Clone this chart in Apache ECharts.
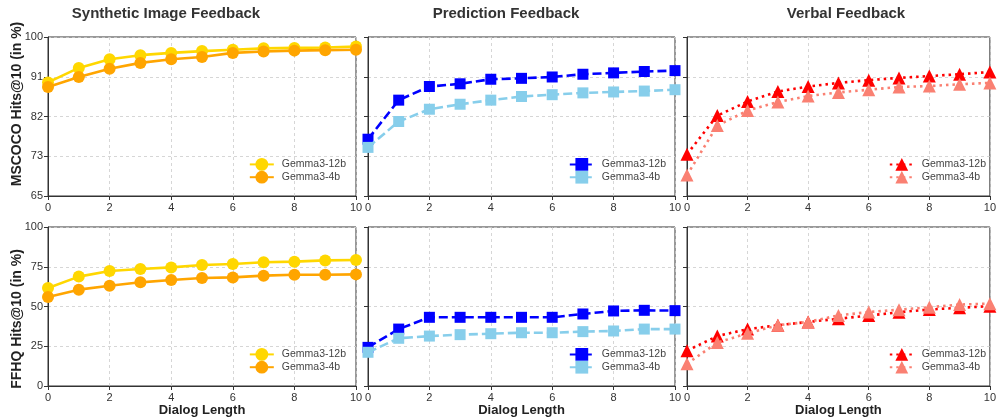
<!DOCTYPE html>
<html>
<head>
<meta charset="utf-8">
<script src="https://cdn.jsdelivr.net/npm/echarts@6/dist/echarts.min.js"></script>
<style>
html,body{margin:0;padding:0;background:#fff;}
#chart{width:999px;height:418px;}
</style>
</head>
<body>
<div id="chart"></div>
<script>
// ---- data ----
const dialogLength = [0,1,2,3,4,5,6,7,8,9,10];
const xTicks = [0,2,4,6,8,10];
const panelTitles = ['Synthetic Image Feedback','Prediction Feedback','Verbal Feedback'];
const rowLabels = ['MSCOCO Hits@10 (in %)','FFHQ Hits@10 (in %)'];
const modelNames = ['Gemma3-12b','Gemma3-4b'];
const msTicks = [65,73.75,82.5,91.25,100];
const ffTicks = [0,25,50,75,100];

// MSCOCO
const msSynth12b = [90.0,93.2,95.1,96.0,96.5,96.9,97.2,97.5,97.6,97.7,97.9];
const msSynth4b  = [89.0,91.2,93.0,94.3,95.1,95.6,96.5,96.8,97.0,97.1,97.2];
const msPred12b  = [77.5,86.1,89.1,89.7,90.7,90.9,91.2,91.8,92.1,92.4,92.6];
const msPred4b   = [75.7,81.4,84.1,85.2,86.1,86.9,87.3,87.7,87.9,88.1,88.4];
const msVerb12b  = [74.2,82.7,85.8,88.0,89.1,89.9,90.5,91.0,91.4,91.8,92.3];
const msVerb4b   = [69.6,80.5,83.8,85.7,87.0,87.8,88.4,89.0,89.2,89.6,89.9];
// FFHQ
const ffSynth12b = [61.6,68.8,72.3,73.6,74.6,76.1,76.7,77.8,78.2,79.0,79.2];
const ffSynth4b  = [56.0,60.6,63.1,65.2,66.7,67.9,68.3,69.4,70.0,70.0,70.2];
const ffPred12b  = [24.3,35.8,43.2,43.2,43.2,43.2,43.2,45.3,47.2,47.6,47.4];
const ffPred4b   = [21.2,30.0,31.4,32.3,32.9,33.5,33.5,34.2,34.6,35.8,35.8];
const ffVerb12b  = [22.2,31.4,35.8,38.2,40.3,42.3,44.3,46.4,48.1,49.2,50.2];
const ffVerb4b   = [14.0,27.3,33.1,38.2,40.3,44.4,46.5,48.0,49.5,51.2,51.8];

// ---- styles ----
const FONT = 'Liberation Sans';
const colors = [['#FFD700','#FFA500'],['#0000FF','#87CEEB'],['#FF0000','#FA8072']];
const symbols = ['circle','rect','triangle'];
const symSizes = [12,11,13];
const lineTypes = ['solid',[9,4],[2.5,4]];
const colLeft = [48,368,687];
const colWidth = [308,307,308];
const rowTop = [37,227];
const rowHeight = 159;
const legendRight = [653,333,13];

const dataByPanel = [
  [[msSynth12b,msSynth4b],[msPred12b,msPred4b],[msVerb12b,msVerb4b]],
  [[ffSynth12b,ffSynth4b],[ffPred12b,ffPred4b],[ffVerb12b,ffVerb4b]]
];

const grid=[], xAxis=[], yAxis=[], series=[], legend=[], graphic=[];
for (let r=0;r<2;r++){
  for (let c=0;c<3;c++){
    const i = r*3+c;
    grid.push({left:colLeft[c], top:rowTop[r], width:colWidth[c], height:rowHeight,
      show:true, borderColor:'#333', borderWidth:1, backgroundColor:'transparent'});
    xAxis.push({type:'value', gridIndex:i, min:xTicks[0], max:xTicks[xTicks.length-1], interval:xTicks[1]-xTicks[0],
      axisLine:{show:true,onZero:false,lineStyle:{color:'#333',width:1}},
      axisTick:{show:true,length:4,lineStyle:{color:'#333'}},
      axisLabel:{show:true,fontFamily:FONT,fontSize:11,color:'#333',margin:6},
      splitLine:{show:true,lineStyle:{color:'#cccccc',type:[3,3],width:0.8}},
      name: r===1 ? 'Dialog Length' : '', nameLocation:'middle', nameGap:18,
      nameTextStyle:{fontFamily:FONT,fontSize:13,fontWeight:'bold',color:'#222',verticalAlign:'top'}
    });
    const ticks = r===0 ? msTicks : ffTicks;
    yAxis.push({type:'value', gridIndex:i, min:ticks[0], max:ticks[ticks.length-1], interval:ticks[1]-ticks[0],
      axisLine:{show:true,onZero:false,lineStyle:{color:'#333',width:1}},
      axisTick:{show:true,length:4,lineStyle:{color:'#333'}},
      axisLabel:{show:c===0,fontFamily:FONT,fontSize:11,color:'#333',margin:5,
        formatter:(v)=>String(Math.floor(v+1e-9))},
      splitLine:{show:true,lineStyle:{color:'#cccccc',type:[3,3],width:0.8}}
    });
    const names=[];
    for (let m=0;m<2;m++){
      const nm = 'p'+i+'|'+modelNames[m];
      names.push(nm);
      const vals = dataByPanel[r][c][m];
      series.push({type:'line', name:nm, xAxisIndex:i, yAxisIndex:i,
        data: dialogLength.map((x,k)=>[x,vals[k]]),
        symbol:symbols[c], symbolSize:symSizes[c], showSymbol:true,
        lineStyle:{color:colors[c][m], width:2.6, type:lineTypes[c]},
        itemStyle:{color:colors[c][m], borderColor:colors[c][m], borderWidth:0},
        emphasis:{disabled:true}, animation:false, z:2+m, clip:true
      });
    }
    legend.push({data:names, right:legendRight[c], top:rowTop[r]+121, orient:'vertical', padding:0,
      itemWidth:24, itemHeight:16, itemGap:0, selectedMode:false,
      formatter:(n)=>n.split('|')[1],
      textStyle:{fontFamily:FONT,fontSize:10.5,color:'#444',padding:[0,0,0,3]}});
  }
}
const titleCenters=[166,506,846];
for (let c=0;c<3;c++){
  graphic.push({type:'text', x:titleCenters[c], y:14, style:{text:panelTitles[c], x:0,y:0,
    textAlign:'center', textVerticalAlign:'middle', font:'bold 15px "'+FONT+'"', fill:'#333'}});
}
const rowLabelCenters=[104,319];
for (let r=0;r<2;r++){
  graphic.push({type:'text', x:17, y:rowLabelCenters[r], rotation:Math.PI/2, style:{text:rowLabels[r], x:0,y:0,
    textAlign:'center', textVerticalAlign:'middle', font:'bold 14px "'+FONT+'"', fill:'#222'}});
}

const chart = echarts.init(document.getElementById('chart'), null, {renderer:'canvas'});
chart.setOption({animation:false, backgroundColor:'#fff', grid, xAxis, yAxis, series, legend, graphic});
</script>
</body>
</html>
